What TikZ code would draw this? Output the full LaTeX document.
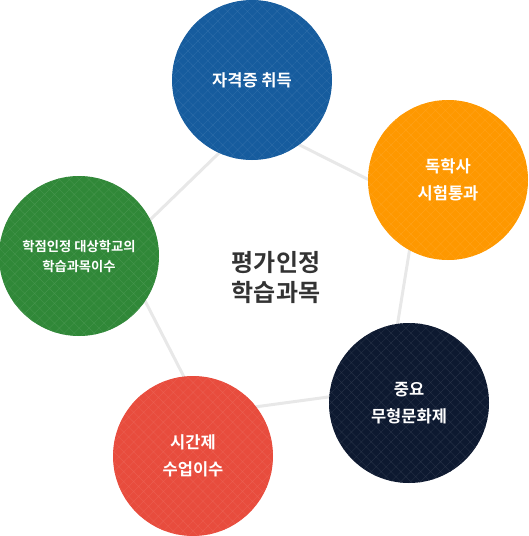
\documentclass[tikz,border=0pt]{standalone}
\usepackage{fontspec}
\setmainfont{Noto Sans CJK KR}[BoldFont={Noto Sans CJK KR Bold}]
\usetikzlibrary{patterns.meta}
\definecolor{certblue}{RGB}{22,92,158}
\definecolor{selforange}{RGB}{254,152,0}
\definecolor{heritnavy}{RGB}{13,25,48}
\definecolor{partred}{RGB}{232,76,61}
\definecolor{creditgreen}{RGB}{48,136,56}
\definecolor{linkgray}{RGB}{232,232,232}
\definecolor{midtext}{RGB}{51,51,51}

\begin{document}
\begin{tikzpicture}[x=1pt, y=-1pt,
  orb/.style={circle, minimum size=160pt, inner sep=0pt, fill=#1, text=white,
    align=center, font=\fontsize{16.5}{27}\selectfont\bfseries,
    postaction={pattern={Hatch[distance=7pt, angle=45, line width=.4pt]},
      pattern color=#1!90!white}},
  link/.style={draw=linkgray, line width=3pt}]
  \useasboundingbox (0,0) rectangle (529,536);
  % pentagon corners hidden behind the circles
  \coordinate (k-cert) at (252,121);
  \coordinate (k-self) at (417,204);
  \coordinate (k-herit) at (387,389);
  \coordinate (k-part) at (203,414);
  \coordinate (k-credit) at (119,250);
  \draw[link] (k-cert) -- (k-self) -- (k-herit) -- (k-part) -- (k-credit) -- cycle;
  \node[orb=certblue] (cert) at (252,80) {자격증 취득};
  \node[orb=selforange] (self) at (448,180) {독학사\\시험통과};
  \node[orb=heritnavy] (herit) at (409,403) {중요\\무형문화제};
  \node[orb=partred] (part) at (193,456) {시간제\\수업이수};
  \node[orb=creditgreen, font=\fontsize{13.3}{20}\selectfont\bfseries] (credit) at (79,256)
    {학점인정 대상학교의\\학습과목이수};
  \node[text=midtext, align=center, font=\fontsize{24}{30}\selectfont\bfseries] (hub) at (276,277)
    {평가인정\\학습과목};
\end{tikzpicture}
\end{document}
